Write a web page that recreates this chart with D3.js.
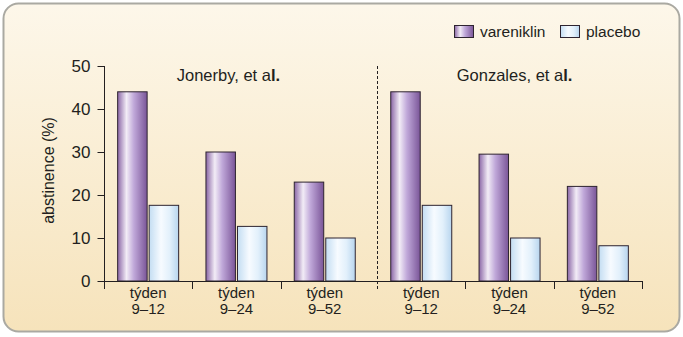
<!DOCTYPE html>
<html>
<head>
<meta charset="utf-8">
<script src="https://cdn.jsdelivr.net/npm/d3@7/dist/d3.min.js"></script>
<style>
  html, body { margin: 0; padding: 0; background: #ffffff; }
  svg { display: block; font-family: "Liberation Sans", Arial, Helvetica, sans-serif; }
</style>
</head>
<body>
<svg id="chart" width="683" height="337"></svg>
<script>
// ---- data ----
const studies = ["Jonerby, et al.", "Gonzales, et al."];
const weeks = ["9–12", "9–24", "9–52"];
const weekPrefix = "týden";
const seriesNames = ["vareniklin", "placebo"];
const jonerbyVareniklin = [44, 30, 23];
const jonerbyPlacebo = [17.6, 12.7, 10];
const gonzalesVareniklin = [44, 29.5, 22];
const gonzalesPlacebo = [17.6, 10, 8.2];
const yTicks = [0, 10, 20, 30, 40, 50];
const yLabel = "abstinence (%)";

const studyValues = [
  [jonerbyVareniklin, jonerbyPlacebo],
  [gonzalesVareniklin, gonzalesPlacebo]
];

const svg = d3.select("#chart");
const defs = svg.append("defs");

// background gradient
const bg = defs.append("linearGradient").attr("id", "bg").attr("x1", 0).attr("y1", 0).attr("x2", 0).attr("y2", 1);
bg.append("stop").attr("offset", "0%").attr("stop-color", "#fdf7ea");
bg.append("stop").attr("offset", "100%").attr("stop-color", "#f6e3bb");

function barGrad(id, stops) {
  const g = defs.append("linearGradient").attr("id", id).attr("x1", 0).attr("y1", 0).attr("x2", 1).attr("y2", 0);
  stops.forEach(s => g.append("stop").attr("offset", s[0]).attr("stop-color", s[1]));
}
barGrad("gVar", [["0%", "#8a66a6"], ["30%", "#f2ecf6"], ["55%", "#c0a8d9"], ["100%", "#7a5598"]]);
barGrad("gPla", [["0%", "#c3ddf2"], ["40%", "#f7fbff"], ["70%", "#e2f0fb"], ["100%", "#b8d5ee"]]);
const fills = ["url(#gVar)", "url(#gPla)"];

// panel
svg.append("rect")
  .attr("x", 3.5).attr("y", 3.5).attr("width", 676).attr("height", 328)
  .attr("rx", 15).attr("ry", 15)
  .attr("fill", "url(#bg)")
  .attr("stroke", "#aaa9a2").attr("stroke-width", 2);

// scales
const y = d3.scaleLinear().domain([0, 50]).range([281, 66]);
const xStudy = d3.scaleBand().domain(studies).range([104, 642]).paddingInner(0.03);
const xWeek = d3.scaleBand().domain(weeks).range([0, xStudy.bandwidth()]);
const bw = xWeek.bandwidth();
const xSeries = d3.scaleBand().domain(seriesNames).range([bw / 2 - 30.5, bw / 2 + 30.5]).paddingInner(0.065);

// bars
studies.forEach((st, si) => {
  const g = svg.append("g").attr("transform", `translate(${xStudy(st)},0)`);
  weeks.forEach((w, wi) => {
    seriesNames.forEach((s, ki) => {
      const v = studyValues[si][ki][wi];
      g.append("rect")
        .attr("x", xWeek(w) + xSeries(s))
        .attr("y", y(v))
        .attr("width", xSeries.bandwidth())
        .attr("height", y(0) - y(v))
        .attr("fill", fills[ki])
        .attr("stroke", "#2e2430")
        .attr("stroke-width", 1);
    });
  });
  // study title
  const t = g.append("text")
    .attr("x", xStudy.bandwidth() / 2 + (si === 0 ? -8 : 5))
    .attr("y", 81)
    .attr("text-anchor", "middle")
    .attr("font-size", 16.5)
    .attr("fill", "#231f20");
  const name = st.slice(0, -2);
  t.append("tspan").text(name);
  t.append("tspan").attr("font-weight", "bold").text("l.");
  // category labels
  weeks.forEach(w => {
    const cx = xWeek(w) + bw / 2;
    g.append("text").attr("x", cx).attr("y", 298).attr("text-anchor", "middle")
      .attr("font-size", 15).attr("fill", "#231f20").text(weekPrefix);
    g.append("text").attr("x", cx).attr("y", 314).attr("text-anchor", "middle")
      .attr("font-size", 15).attr("fill", "#231f20").text(w);
  });
});

// x axis baseline and group ticks
const xTickPos = [];
studies.forEach(st => weeks.forEach(w => xTickPos.push(xStudy(st) + xWeek(w))));
xTickPos.push(xStudy.range()[1]);
svg.append("line").attr("x1", 104).attr("x2", xStudy.range()[1]).attr("y1", y(0) + 0.5).attr("y2", y(0) + 0.5)
  .attr("stroke", "#231f20").attr("stroke-width", 1);
xTickPos.forEach(px => {
  if (px === xStudy(studies[1])) return;
  svg.append("line").attr("x1", Math.round(px) + 0.5).attr("x2", Math.round(px) + 0.5)
    .attr("y1", y(0)).attr("y2", y(0) + 8).attr("stroke", "#231f20").attr("stroke-width", 1);
});

// dashed separator
const sepX = Math.round(xStudy(studies[1])) + 0.5;
svg.append("line").attr("x1", sepX).attr("x2", sepX).attr("y1", y(50)).attr("y2", y(0) + 8)
  .attr("stroke", "#231f20").attr("stroke-width", 1).attr("stroke-dasharray", "3,2");

// y axis
const yAxis = d3.axisLeft(y).tickValues(yTicks).tickSize(7).tickPadding(7).tickSizeOuter(0);
const ya = svg.append("g").attr("transform", "translate(104.5,0)").call(yAxis);
ya.select(".domain").attr("stroke", "#231f20").attr("d", `M0,${y(50)}V${y(0) + 8}`);
ya.selectAll(".tick line").attr("stroke", "#231f20");
ya.selectAll(".tick text").attr("font-size", 17).attr("fill", "#231f20")
  .attr("font-family", "'Liberation Sans', Arial, sans-serif");

// y label
svg.append("text")
  .attr("transform", `translate(54,${(y(0) + y(50)) / 2 - 3}) rotate(-90)`)
  .attr("text-anchor", "middle")
  .attr("font-size", 16).attr("fill", "#231f20")
  .text(yLabel);

// legend
const legX = [454, 560];
seriesNames.forEach((s, i) => {
  svg.append("rect").attr("x", legX[i] + 0.5).attr("y", 25.5).attr("width", 19).attr("height", 12)
    .attr("fill", fills[i]).attr("stroke", "#2e2430").attr("stroke-width", 1);
  svg.append("text").attr("x", legX[i] + 26).attr("y", 37).attr("font-size", 15.5)
    .attr("fill", "#231f20").text(s);
});
</script>
</body>
</html>
